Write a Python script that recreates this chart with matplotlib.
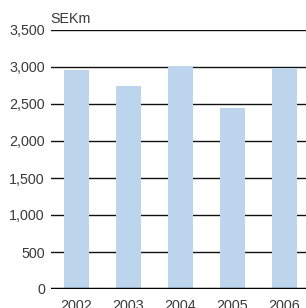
import matplotlib
matplotlib.use("Agg")
import matplotlib.pyplot as plt

years = ["2002", "2003", "2004", "2005", "2006"]
values = [2960, 2745, 3015, 2450, 2990]
yticks = [0, 500, 1000, 1500, 2000, 2500, 3000, 3500]

plt.rcParams['font.family'] = ['Liberation Sans', 'DejaVu Sans']

fig = plt.figure(figsize=(3.06, 3.08), dpi=100)
ax = fig.add_axes([50.5 / 306, 19 / 308, 259.5 / 306, 259 / 308])

ax.bar(range(len(years)), values, width=0.48, color="#bdd5ec", zorder=3)
for y in yticks[1:]:
    ax.axhline(y, color="#111111", lw=1.0, zorder=2)
ax.axhline(0, color="black", lw=2.5, zorder=4)

ax.set_xlim(-0.5, 4.5)
ax.set_ylim(0, 3500)
ax.set_yticks(yticks)
ax.set_yticklabels([f"{v:,}" for v in yticks])
ax.set_xticks(range(len(years)))
ax.set_xticklabels(years)
ax.tick_params(axis="both", length=0, labelsize=10.3, colors="#3a3a3a")
ax.tick_params(axis="y", pad=4)
ax.tick_params(axis="x", pad=7)
for s in ax.spines.values():
    s.set_visible(False)

fig.text(50 / 306, 1 - 19 / 308, "SEKm", fontsize=10.3, color="#3a3a3a", va="center", ha="left")

fig.savefig("out.png", dpi=100)
